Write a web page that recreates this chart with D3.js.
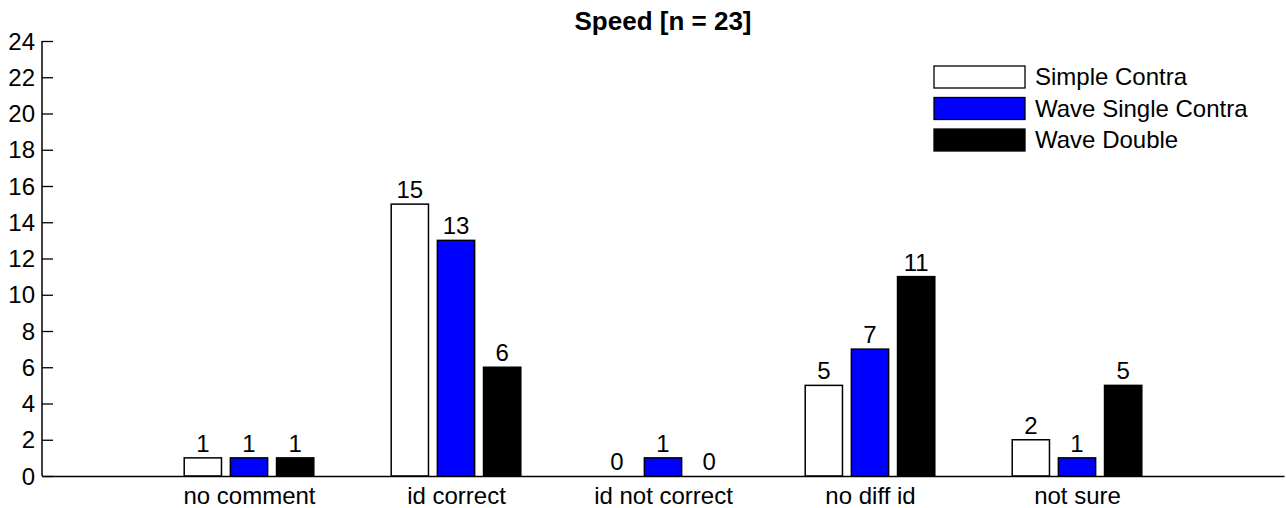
<!DOCTYPE html>
<html>
<head>
<meta charset="utf-8">
<script src="https://cdn.jsdelivr.net/npm/d3@7"></script>
<style>
  html, body { margin: 0; padding: 0; background: #fff; }
  svg { display: block; font-family: "Liberation Sans", Arial, sans-serif; }
</style>
</head>
<body>
<svg id="chart" width="1286" height="508"></svg>
<script>
// Response counts per answer category
const categories = ["no comment", "id correct", "id not correct", "no diff id", "not sure"];
const seriesNames = ["Simple Contra", "Wave Single Contra", "Wave Double"];
const seriesColors = ["#ffffff", "#0000ff", "#000000"];
const simpleContra = [1, 15, 0, 5, 2];
const waveSingleContra = [1, 13, 1, 7, 1];
const waveDouble = [1, 6, 0, 11, 5];
const yTicks = [0, 2, 4, 6, 8, 10, 12, 14, 16, 18, 20, 22, 24];
const title = "Speed [n = 23]";

const series = [simpleContra, waveSingleContra, waveDouble];

const svg = d3.select("#chart");
const plotLeft = 42, plotRight = 1284, plotTop = 41, plotBottom = 476;
const fontSize = 24;

// categories sit at positions 1..5 on a 0..6 axis
const x = d3.scaleLinear().domain([0, categories.length + 1]).range([plotLeft, plotRight]);
const y = d3.scaleLinear().domain([0, 24]).range([plotBottom, plotTop]);

const groupOffset = 0.223;   // spacing between bars within a group (axis units)
const barWidth = 0.18;       // bar width (axis units)
const bw = x(barWidth) - x(0);

// title
svg.append("text")
  .attr("x", (plotLeft + plotRight) / 2)
  .attr("y", 30)
  .attr("text-anchor", "middle")
  .attr("font-size", 26)
  .attr("font-weight", "bold")
  .text(title);

// bars and value labels
series.forEach((vals, si) => {
  const off = (si - 1) * groupOffset;
  const g = svg.append("g");
  vals.forEach((v, ci) => {
    const cx = x(ci + 1 + off);
    if (v > 0) {
      g.append("rect")
        .attr("x", cx - bw / 2)
        .attr("y", y(v))
        .attr("width", bw)
        .attr("height", y(0) - y(v))
        .attr("fill", seriesColors[si])
        .attr("stroke", "#000")
        .attr("stroke-width", 1.5);
    }
    g.append("text")
      .attr("x", cx)
      .attr("y", y(v) - 6)
      .attr("text-anchor", "middle")
      .attr("font-size", fontSize)
      .text(v);
  });
});

// y axis with inward ticks
const yAxis = d3.axisRight(y).tickValues(yTicks).tickSize(11).tickFormat("");
const ya = svg.append("g").attr("transform", `translate(${plotLeft},0)`).call(yAxis);
ya.select(".domain").attr("stroke", "#000").attr("stroke-width", 1.5).attr("d", `M0,${plotTop}V${plotBottom}`);
ya.selectAll(".tick line").attr("stroke", "#000").attr("stroke-width", 1.3);
svg.append("g").selectAll("text").data(yTicks).join("text")
  .attr("x", plotLeft - 7)
  .attr("y", d => y(d))
  .attr("dy", "0.36em")
  .attr("text-anchor", "end")
  .attr("font-size", fontSize)
  .text(d => d);

// x axis line and category labels
const xAxis = d3.axisBottom(x).tickValues(d3.range(1, categories.length + 1)).tickSize(0)
  .tickFormat(d => categories[d - 1]);
const xa = svg.append("g").attr("transform", `translate(0,${plotBottom})`).call(xAxis);
xa.attr("font-size", fontSize).attr("font-family", "Liberation Sans, Arial, sans-serif");
xa.select(".domain").attr("stroke", "#000").attr("stroke-width", 1.5);
xa.selectAll(".tick text")
  .attr("font-size", fontSize)
  .attr("fill", "#000")
  .attr("dy", 0)
  .attr("y", 28);

// legend
const legend = svg.append("g").attr("transform", "translate(934,66)");
seriesNames.forEach((name, i) => {
  const row = legend.append("g").attr("transform", `translate(0,${i * 31.5})`);
  row.append("rect")
    .attr("width", 91).attr("height", 22)
    .attr("fill", seriesColors[i])
    .attr("stroke", "#000").attr("stroke-width", 1.3);
  row.append("text")
    .attr("x", 101).attr("y", 19)
    .attr("font-size", fontSize)
    .text(name);
});
</script>
</body>
</html>
